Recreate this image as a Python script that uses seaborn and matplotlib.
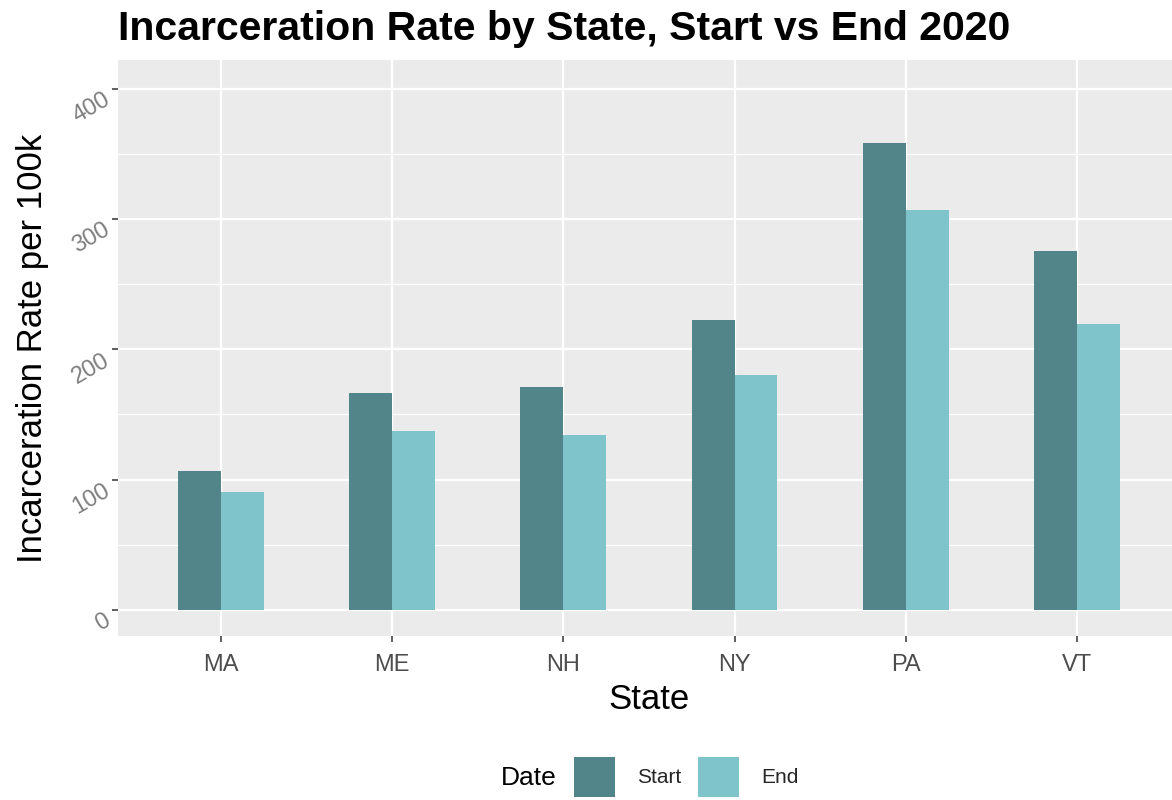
import pandas as pd
import matplotlib.pyplot as plt
import seaborn as sns
import numpy as np
from matplotlib.patches import Patch
from matplotlib.ticker import MultipleLocator

# Datos
estados = ['MA', 'ME', 'NH', 'NY', 'PA', 'VT']
tasa_inicio = [106.4, 166.8, 171.3, 222.8, 358.1, 275.8]
tasa_fin = [90.3, 137.2, 134.4, 180.0, 306.6, 219.7]
fechas = ['Start', 'End']
colores = ['#52858A', '#7EC4CA']

df = pd.DataFrame({
    'State': estados * 2,
    'Rate': tasa_inicio + tasa_fin,
    'Date': ['Start'] * len(estados) + ['End'] * len(estados),
})

sns.set_theme(style='darkgrid', rc={
    'axes.facecolor': '#EBEBEB',
    'grid.color': 'white',
    'axes.edgecolor': '#EBEBEB',
})
plt.rcParams['font.family'] = ['Liberation Sans', 'DejaVu Sans']

fig = plt.figure(figsize=(11.72, 8), dpi=100)
ax = fig.add_axes([0.1007, 0.205, 0.906, 0.72])

sns.barplot(data=df, x='State', y='Rate', hue='Date', hue_order=fechas,
            palette=colores, width=0.5, dodge=True, saturation=1,
            order=estados, ax=ax, legend=False, linewidth=0)

ax.set_xlim(-0.6, 5.6)
ax.set_ylim(-20, 422)
ax.set_yticks([0, 100, 200, 300, 400])
ax.yaxis.set_minor_locator(MultipleLocator(50))
ax.grid(which='major', color='white', linewidth=1.6)
ax.grid(which='minor', axis='y', color='white', linewidth=0.8)
ax.set_axisbelow(True)

ax.tick_params(axis='both', which='major', length=4, width=1.1, color='#333333',
               labelsize=17, left=True, bottom=True)
ax.tick_params(axis='x', labelcolor='#4D4D4D', pad=9)
ax.tick_params(axis='y', labelcolor='#7F7F7F', pad=7)
ax.tick_params(axis='y', which='minor', length=0)
plt.setp(ax.get_yticklabels(), rotation=30, rotation_mode='anchor', ha='right', va='top')
for s in ax.spines.values():
    s.set_visible(False)

ax.set_xlabel('State', fontsize=25, color='black', labelpad=5)
ax.set_ylabel('Incarceration Rate per 100k', fontsize=25, color='black', labelpad=14)

fig.text(0.1007, 0.95, 'Incarceration Rate by State, Start vs End 2020',
         fontsize=29.5, fontweight='bold', color='black', ha='left', va='baseline')

# Leyenda inferior
fig.text(0.451, 0.028, 'Date', fontsize=19, color='black', ha='center', va='center')
manejadores = [Patch(facecolor=c, edgecolor='none', label=f) for c, f in zip(colores, fechas)]
fig.legend(handles=manejadores, loc='center left', bbox_to_anchor=(0.4898, 0.029),
           ncol=2, frameon=False, fontsize=15, handlelength=1.97, handleheight=2.6,
           handletextpad=1.05, columnspacing=0.8, borderaxespad=0, borderpad=0)

plt.savefig('out.png', dpi=100, facecolor='white')
